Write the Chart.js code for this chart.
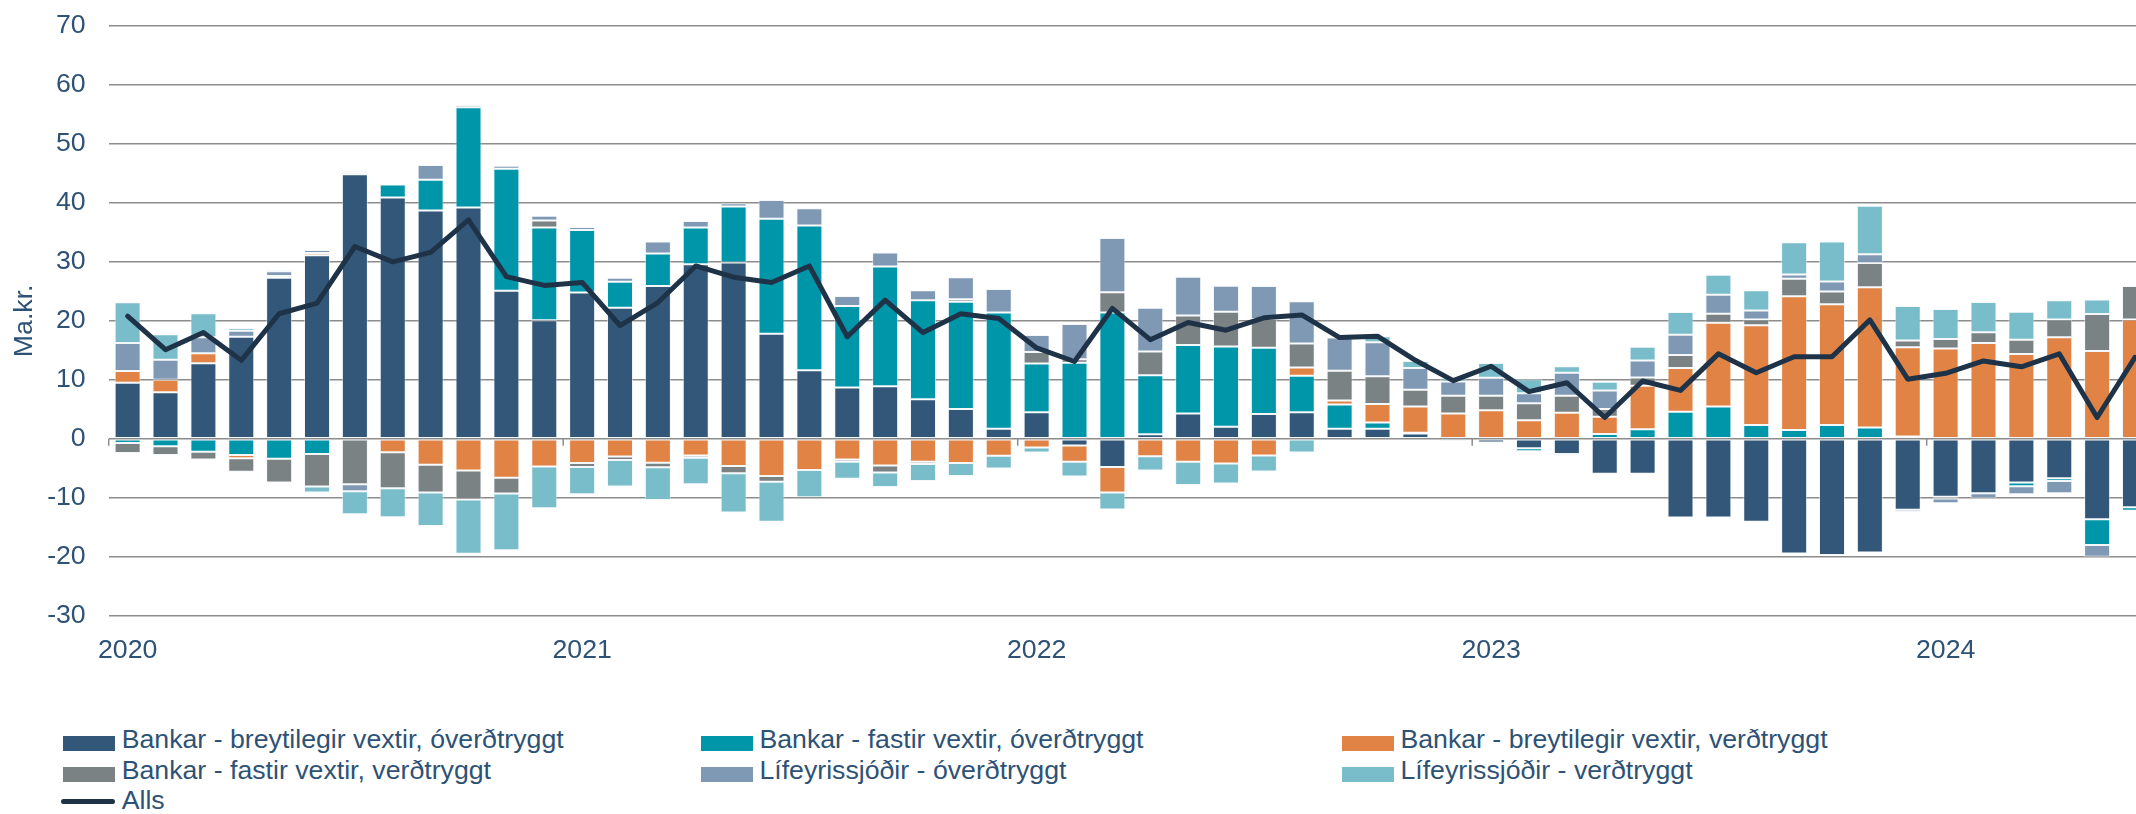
<!DOCTYPE html>
<html><head><meta charset="utf-8">
<script src="https://cdn.jsdelivr.net/npm/chart.js@4.4.1/dist/chart.umd.min.js"></script>
<style>
html,body{margin:0;padding:0;overflow:hidden;background:#fff;width:2136px;height:814px;}
#wrap{position:relative;width:2136px;height:814px;overflow:hidden;}
canvas{position:absolute;left:0;top:0;}
.lt{position:absolute;font-family:'Liberation Sans',Arial,sans-serif;font-size:26.7px;color:#2E5275;line-height:26px;white-space:nowrap;}
.mk{position:absolute;}
</style></head><body><div id="wrap"><canvas id="c" width="2154" height="680"></canvas><div id="legend"></div></div>
<script>
const categories = [
 '2020-01','2020-02','2020-03','2020-04','2020-05','2020-06','2020-07','2020-08','2020-09','2020-10','2020-11','2020-12',
 '2021-01','2021-02','2021-03','2021-04','2021-05','2021-06','2021-07','2021-08','2021-09','2021-10','2021-11','2021-12',
 '2022-01','2022-02','2022-03','2022-04','2022-05','2022-06','2022-07','2022-08','2022-09','2022-10','2022-11','2022-12',
 '2023-01','2023-02','2023-03','2023-04','2023-05','2023-06','2023-07','2023-08','2023-09','2023-10','2023-11','2023-12',
 '2024-01','2024-02','2024-03','2024-04','2024-05','2024-06'];
const tickLabels = ['2020','2021','2022','2023','2024'];
const yTicks = [-30,-20,-10,0,10,20,30,40,50,60,70];

const bankarBreytOverd = [9.5,7.9,12.8,17.3,27.3,31.1,44.85,40.9,38.7,39.2,25.1,20.1,
 24.8,22.2,25.9,29.6,29.9,17.8,11.6,8.7,8.9,6.7,5.05,1.7,
 4.5,-1.15,-4.8,0.75,4.3,2.05,4.2,4.5,1.7,1.7,0.9,0,
 -0.65,-1.6,-2.6,-5.95,-5.95,-13.35,-13.35,-14.05,-19.45,-19.7,-19.3,-12.05,
 -9.85,-9.25,-7.4,-6.7,-13.65,-11.6];
const bankarFastOverd = [-0.7,-1.27,-2.2,-2.75,-3.4,-2.6,0.35,2.2,5.2,17.0,20.7,15.7,
 10.6,4.4,5.5,6.2,9.5,19.5,24.55,13.8,20.3,16.8,18.2,19.7,
 8.25,12.9,21.4,10.0,11.6,13.6,11.25,6.2,4.1,1.05,0.1,-0.4,
 0,-0.5,-0.3,0.8,1.6,4.6,5.45,2.35,1.5,2.35,1.9,0.4,
 -0.3,0,-0.65,-0.45,-4.35,-0.6];
const bankarBreytVerd = [2.0,2.1,1.7,-0.55,0.3,0.4,0.2,-2.3,-4.4,-5.4,-6.6,-4.7,
 -4.1,-3.0,-4.05,-2.85,-4.6,-6.3,-5.3,-3.5,-4.55,-3.9,-4.1,-2.9,
 -1.5,-2.75,-4.3,-2.95,-3.9,-4.2,-2.85,1.4,0.7,3.15,4.45,4.3,
 4.85,3.15,4.4,2.95,7.4,7.4,14.2,16.9,22.65,20.45,23.8,15.1,
 15.3,16.25,14.35,17.2,14.9,20.2];
const bankarFastVerd = [-1.7,-1.47,-1.3,-2.3,-4.0,-5.5,-7.7,-6.1,-4.7,-4.9,-2.7,1.2,
 -0.7,-0.6,-0.8,-0.35,-1.25,-1.0,0,-0.4,-1.15,-0.4,0.4,0,
 1.95,0.6,3.45,4.05,5.0,5.9,4.85,4.05,5.05,4.7,2.85,3.0,
 2.45,2.85,2.9,1.3,1.4,2.2,1.55,0.95,3.0,2.15,4.1,1.15,
 1.6,1.8,2.45,3.0,6.25,5.7];
const lifOverd = [4.75,3.4,2.7,1.0,0.8,0.5,-1.2,0,2.5,0.4,0.5,0.8,
 0.5,0.7,2.05,1.1,0.55,3.2,2.95,1.7,2.4,1.7,3.75,4.0,
 2.9,5.95,9.2,7.4,6.55,4.4,5.6,7.15,5.6,5.75,3.7,2.4,
 3.05,1.7,3.9,3.15,2.85,3.45,3.2,1.55,0.7,1.7,1.5,-0.35,
 -0.8,-0.85,-1.35,-2.1,-2.0,0];
const lifVerd = [6.9,4.3,4.1,0.5,0.2,-1.0,-3.9,-4.9,-5.7,-9.2,-9.6,-7.1,
 -4.6,-4.5,-5.55,-4.5,-6.65,-6.75,-4.6,-2.9,-2.5,-2.85,-2.2,-2.15,
 -0.85,-2.5,-2.9,-2.45,-3.95,-3.4,-2.7,-2.35,0,1.05,1.2,0.55,
 2.5,2.4,1.1,1.45,2.35,3.85,3.4,3.45,5.45,6.8,8.2,5.85,
 5.1,5.15,4.75,3.3,2.45,0];
const alls = [20.8,15.1,18.0,13.3,21.2,23.0,32.6,30.0,31.6,37.1,27.5,26.0,
 26.5,19.2,23.1,29.3,27.4,26.5,29.3,17.3,23.5,18.0,21.2,20.4,
 15.4,13.1,22.1,16.8,19.7,18.4,20.5,21.0,17.15,17.4,13.3,9.85,
 12.3,8.0,9.5,3.6,9.8,8.2,14.4,11.2,13.9,13.9,20.15,10.1,
 11.1,13.2,12.2,14.4,3.6,13.8];

const seriesNames = ['Bankar - breytilegir vextir, óverðtryggt','Bankar - fastir vextir, óverðtryggt','Bankar - breytilegir vextir, verðtryggt','Bankar - fastir vextir, verðtryggt','Lífeyrissjóðir - óverðtryggt','Lífeyrissjóðir - verðtryggt','Alls'];
const seriesColors = ['#335779','#0096AA','#E08344','#7A8284','#7F98B4','#79BDCA','#1E3348'];
const barSeries = [bankarBreytOverd,bankarFastOverd,bankarBreytVerd,bankarFastVerd,lifOverd,lifVerd];

const FONT = "'Liberation Sans', Arial, sans-serif";
const TXT = '#2E5275';
const GRID = '#8c8c8c';
const FS = 26.7;

const datasets = barSeries.map((d,i)=>({
  type:'bar', label:seriesNames[i], data:d, backgroundColor:seriesColors[i],
  borderColor:'rgba(235,242,248,0.55)', borderWidth:1, borderSkipped:false,
  stack:'bars', order:1, barPercentage:0.687, categoryPercentage:1.0
}));
datasets.push({type:'line', label:seriesNames[6], data:alls, borderColor:seriesColors[6], backgroundColor:seriesColors[6],
  borderWidth:5, pointRadius:0, tension:0, stack:'total', order:0, borderJoinStyle:'round', borderCapStyle:'round'});

const yearTicksPlugin = {
  id:'yearTicks',
  afterDatasetsDraw(chart){
    const x = chart.scales.x, y = chart.scales.y, ctx = chart.ctx;
    const half = (x.getPixelForValue(1)-x.getPixelForValue(0))/2;
    const y0 = y.getPixelForValue(0);
    ctx.save(); ctx.strokeStyle = GRID; ctx.lineWidth = 1.5;
    categories.forEach((c,i)=>{
      if (c.endsWith('-01')) {
        const px = x.getPixelForValue(i) - half;
        ctx.beginPath(); ctx.moveTo(px, y0); ctx.lineTo(px, y0+7); ctx.stroke();
      }
    });
    ctx.restore();
  }
};

new Chart(document.getElementById('c'), {
  data:{labels:categories, datasets},
  options:{
    responsive:false, animation:false, devicePixelRatio:1,
    layout:{padding:{left:0,right:0,top:25.9,bottom:4.3}},
    plugins:{legend:{display:false}, tooltip:{enabled:false}},
    scales:{
      x:{stacked:true, offset:true,
        grid:{display:false, drawTicks:false}, border:{display:false},
        ticks:{autoSkip:false, maxRotation:0, padding:19, color:TXT, font:{family:FONT,size:FS},
          callback:(v,i)=> categories[i].endsWith('-01') ? tickLabels[Math.floor(i/12)] : ''},
        afterFit:(s)=>{ s.height = 60; }
      },
      y:{stacked:true, min:-30, max:70,
        afterBuildTicks:(s)=>{ s.ticks = yTicks.map(v=>({value:v})); },
        grid:{color:GRID, lineWidth:1.6, drawTicks:false}, border:{display:false},
        ticks:{padding:23, color:TXT, font:{family:FONT,size:FS}},
        title:{display:true, text:'Ma.kr.', color:TXT, font:{family:FONT,size:FS}, padding:{top:9,bottom:0}},
        afterFit:(s)=>{ s.width = 108.7; s.paddingTop = 8; s.paddingBottom = 8; }
      }
    }
  },
  plugins:[yearTicksPlugin]
});

// legend (HTML) built from series names & colors
const legend = document.getElementById('legend');
const colX = [63.3, 701, 1342];
const rowBase = [747.7, 778.5, 809];
seriesNames.forEach((name,i)=>{
  const r = Math.floor(i/3), c = i%3;
  const x = colX[c], base = rowBase[r];
  const mk = document.createElement('div'); mk.className='mk';
  if (i < 6) {
    mk.style.cssText = `left:${x}px;top:${base-11.5}px;width:52px;height:15px;background:${seriesColors[i]};`;
  } else {
    mk.style.cssText = `left:${x-2}px;top:${base-10}px;width:54px;height:5px;border-radius:3px;background:${seriesColors[i]};`;
  }
  legend.appendChild(mk);
  const t = document.createElement('div'); t.className='lt'; t.textContent=name;
  t.style.left = (x+58.4)+'px'; t.style.top = (base-22)+'px';
  legend.appendChild(t);
});
</script></body></html>
